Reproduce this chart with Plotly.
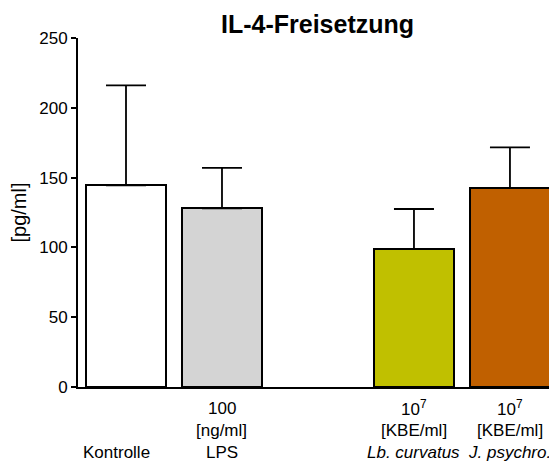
import plotly.graph_objects as go

# Data
groups = ["Kontrolle", "LPS", "Lb. curvatus", "J. psychro."]
group_pos = [0, 1, 3, 4]
values = [144.5, 128.0, 98.7, 142.4]
errors_up = [71.5, 29.0, 28.8, 29.3]
colors = ["#ffffff", "#d4d4d4", "#c0c000", "#c06000"]

dose_labels = ["", "100", "10<sup>7</sup>", "10<sup>7</sup>"]
unit_labels = ["", "[ng/ml]", "[KBE/ml]", "[KBE/ml]"]
agent_labels = ["Kontrolle", "LPS", "<i>Lb. curvatus</i>", "<i>J. psychro.</i>"]
label_xshift = [-10, 0, 0, 0]

FONT = "Liberation Sans, Arial, sans-serif"

fig = go.Figure()
fig.add_trace(go.Bar(
    x=group_pos,
    y=values,
    width=0.833,
    marker=dict(color=colors, line=dict(color="black", width=2)),
    error_y=dict(type="data", symmetric=False, array=errors_up,
                 arrayminus=[0] * len(values), color="black",
                 thickness=1.8, width=20),
    hoverinfo="y",
    showlegend=False,
))

annotations = []
for i, xp in enumerate(group_pos):
    for row, labels in enumerate([dose_labels, unit_labels, agent_labels]):
        if labels[i]:
            annotations.append(dict(
                x=xp, y=0, xref="x", yref="y",
                text=labels[i], showarrow=False,
                xanchor="center", yanchor="middle",
                yshift=-(21 + row * 22), xshift=label_xshift[i],
                font=dict(family=FONT, size=17, color="black"),
            ))

# page body has an 8px margin, so the figure is 8px smaller each way
fig.update_layout(
    width=549, height=454,
    margin=dict(l=70, r=0, t=30, b=75),
    paper_bgcolor="white", plot_bgcolor="white",
    font=dict(family=FONT, size=17, color="black"),
    title=dict(text="<b>IL-4-Freisetzung</b>", x=0.5, xref="paper",
               y=1, yref="paper", yanchor="bottom", pad=dict(b=5),
               font=dict(family=FONT, size=25, color="black")),
    annotations=annotations,
    bargap=0,
)
fig.update_xaxes(range=[-0.5, 4.49], showline=True, linecolor="black",
                 linewidth=2, showticklabels=False, ticks="",
                 showgrid=False, zeroline=False)
fig.update_yaxes(range=[0, 250], dtick=50, showline=True, linecolor="black",
                 linewidth=2, ticks="outside", ticklen=5, tickwidth=2,
                 tickcolor="black", showgrid=False, zeroline=False,
                 tickfont=dict(family=FONT, size=17),
                 title=dict(text="[pg/ml]", standoff=8,
                            font=dict(family=FONT, size=20)))

fig.write_html("out.html")
